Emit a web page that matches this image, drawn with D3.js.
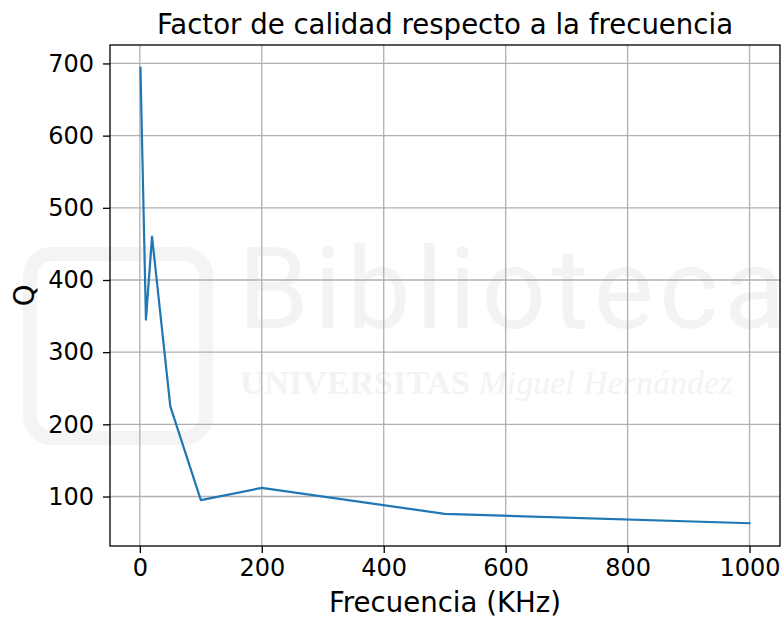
<!DOCTYPE html>
<html>
<head>
<meta charset="utf-8">
<script src="https://cdn.jsdelivr.net/npm/d3@7"></script>
<style>
	body { margin: 0; background: #fff; }
	svg { display: block; font-family: "DejaVu Sans", sans-serif; }
</style>
</head>
<body>
<div id="chart"></div>
<script>
// Data
var frecuencias = [1, 10, 20, 50, 100, 200, 500, 1000],
	valoresQ = [694, 345, 460, 225, 95, 112, 76, 63],
	xTicks = [0, 200, 400, 600, 800, 1000],
	yTicks = [100, 200, 300, 400, 500, 600, 700];

var titulo = 'Factor de calidad respecto a la frecuencia',
	etiquetaX = 'Frecuencia (KHz)',
	etiquetaY = 'Q';

// Layout
var width = 783,
	height = 618,
	margin = { top: 45, right: 3, bottom: 72, left: 110 },
	innerWidth = width - margin.left - margin.right,
	innerHeight = height - margin.top - margin.bottom;

var svg = d3.select('#chart').append('svg')
	.attr('width', width)
	.attr('height', height);

// Faint watermark behind the plot
var wm = svg.append('g').attr('class', 'watermark');
wm.append('rect')
	.attr('x', 30).attr('y', 254)
	.attr('width', 176).attr('height', 184)
	.attr('rx', 22)
	.style('fill', 'none')
	.style('stroke', '#f4f4f4')
	.style('stroke-width', 14);
wm.append('text')
	.attr('x', 238).attr('y', 328)
	.style('font-family', 'Roboto, "DejaVu Sans", sans-serif')
	.style('font-size', '114px')
	.style('letter-spacing', '5px')
	.style('fill', '#f3f3f3')
	.text('Biblioteca');
var sub = wm.append('text')
	.attr('x', 240).attr('y', 394)
	.style('font-family', '"Liberation Serif", serif')
	.style('font-size', '34px')
	.style('fill', '#f3f3f3');
sub.append('tspan').style('font-weight', 'bold').text('UNIVERSITAS ');
sub.append('tspan').style('font-style', 'italic').text('Miguel Hernández');

// Scales with matplotlib style 5% margins
var xExt = d3.extent(frecuencias),
	yExt = d3.extent(valoresQ),
	xPad = (xExt[1] - xExt[0]) * 0.05,
	yPad = (yExt[1] - yExt[0]) * 0.05;

var x = d3.scaleLinear()
	.domain([xExt[0] - xPad, xExt[1] + xPad])
	.range([0, innerWidth]);

var y = d3.scaleLinear()
	.domain([yExt[0] - yPad, yExt[1] + yPad])
	.range([innerHeight, 0]);

var g = svg.append('g')
	.attr('transform', 'translate(' + margin.left + ',' + margin.top + ')');

// Grid
g.append('g').attr('class', 'grid-x')
	.selectAll('line')
	.data(xTicks)
	.enter().append('line')
		.attr('x1', function(d) { return x(d); })
		.attr('x2', function(d) { return x(d); })
		.attr('y1', 0)
		.attr('y2', innerHeight)
		.style('stroke', '#b0b0b0')
		.style('stroke-width', 1.3);

g.append('g').attr('class', 'grid-y')
	.selectAll('line')
	.data(yTicks)
	.enter().append('line')
		.attr('x1', 0)
		.attr('x2', innerWidth)
		.attr('y1', function(d) { return y(d); })
		.attr('y2', function(d) { return y(d); })
		.style('stroke', '#b0b0b0')
		.style('stroke-width', 1.3);

// Line
var line = d3.line()
	.x(function(d, i) { return x(frecuencias[i]); })
	.y(function(d) { return y(d); });

g.append('path')
	.datum(valoresQ)
	.attr('d', line)
	.style('fill', 'none')
	.style('stroke', '#1f77b4')
	.style('stroke-width', 2.2)
	.style('stroke-linejoin', 'round')
	.style('stroke-linecap', 'square');

// Axes
var xAxis = d3.axisBottom(x)
	.tickValues(xTicks)
	.tickSize(7)
	.tickPadding(6)
	.tickFormat(d3.format('d'));

var yAxis = d3.axisLeft(y)
	.tickValues(yTicks)
	.tickSize(7)
	.tickPadding(9)
	.tickFormat(d3.format('d'));

var gx = g.append('g')
	.attr('transform', 'translate(0,' + innerHeight + ')')
	.call(xAxis);

var gy = g.append('g')
	.call(yAxis);

[gx, gy].forEach(function(ax) {
	ax.select('.domain').remove();
	ax.selectAll('line').style('stroke', '#000').style('stroke-width', 1.3);
	ax.selectAll('text')
		.style('font-family', '"DejaVu Sans", sans-serif')
		.style('font-size', '24px')
		.style('fill', '#000');
});

// Frame
g.append('rect')
	.attr('width', innerWidth)
	.attr('height', innerHeight)
	.style('fill', 'none')
	.style('stroke', '#000')
	.style('stroke-width', 1.3);

// Title and labels
svg.append('text')
	.attr('x', margin.left + innerWidth / 2)
	.attr('y', 34)
	.attr('text-anchor', 'middle')
	.style('font-size', '27.6px')
	.text(titulo);

svg.append('text')
	.attr('x', margin.left + innerWidth / 2)
	.attr('y', 612)
	.attr('text-anchor', 'middle')
	.style('font-size', '27.6px')
	.text(etiquetaX);

svg.append('text')
	.attr('transform', 'translate(34,' + (margin.top + innerHeight / 2) + ') rotate(-90)')
	.attr('text-anchor', 'middle')
	.style('font-size', '27.6px')
	.text(etiquetaY);
</script>
</body>
</html>
